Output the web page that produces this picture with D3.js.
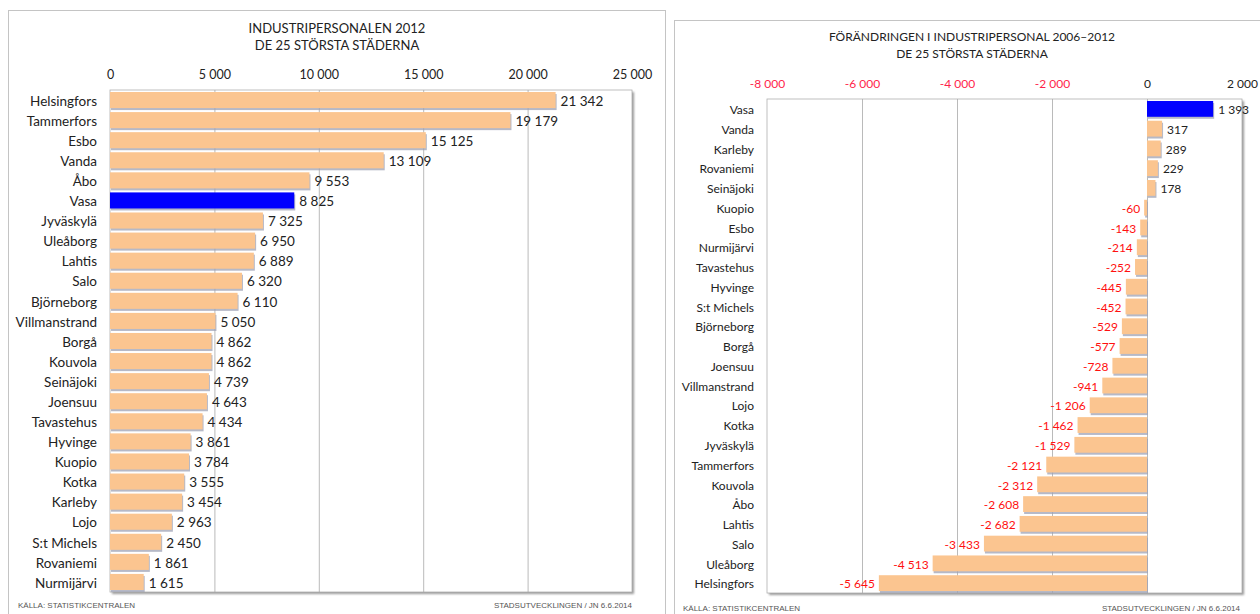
<!DOCTYPE html>
<html>
<head>
<meta charset="utf-8">
<script src="https://cdn.jsdelivr.net/npm/d3@7"></script>
<style>
  body { margin: 0; background: #fff; }
  svg { display: block; }
  text { font-family: Lato, "Open Sans", sans-serif; }
  .foot { font-family: "Liberation Sans", Arial, sans-serif; font-size: 8px; fill: #555; }
</style>
</head>
<body>
<div id="plt"></div>
<script>
// Left chart: staff 2012
const cities2012 = ["Helsingfors","Tammerfors","Esbo","Vanda","Åbo","Vasa","Jyväskylä","Uleåborg","Lahtis","Salo",
  "Björneborg","Villmanstrand","Borgå","Kouvola","Seinäjoki","Joensuu","Tavastehus","Hyvinge","Kuopio","Kotka",
  "Karleby","Lojo","S:t Michels","Rovaniemi","Nurmijärvi"];
const staff2012 = [21342,19179,15125,13109,9553,8825,7325,6950,6889,6320,
  6110,5050,4862,4862,4739,4643,4434,3861,3784,3555,
  3454,2963,2450,1861,1615];
const ticks2012 = [0,5000,10000,15000,20000,25000];

// Right chart: change 2006-2012
const citiesChange = ["Vasa","Vanda","Karleby","Rovaniemi","Seinäjoki","Kuopio","Esbo","Nurmijärvi","Tavastehus","Hyvinge",
  "S:t Michels","Björneborg","Borgå","Joensuu","Villmanstrand","Lojo","Kotka","Jyväskylä","Tammerfors","Kouvola",
  "Åbo","Lahtis","Salo","Uleåborg","Helsingfors"];
const change = [1393,317,289,229,178,-60,-143,-214,-252,-445,
  -452,-529,-577,-728,-941,-1206,-1462,-1529,-2121,-2312,
  -2608,-2682,-3433,-4513,-5645];
const ticksChange = [-8000,-6000,-4000,-2000,0,2000];

const highlight = "Vasa";
const barColor = "#fbc590";
const hiColor = "#0000ff";

const fmt = d3.formatLocale({decimal: ",", thousands: "\u00a0", grouping: [3], currency: ["", ""], minus: "-"}).format(",d");

const svg = d3.select("#plt").append("svg")
    .attr("width", 1260)
    .attr("height", 614);

const defs = svg.append("defs");
const blur = defs.append("filter").attr("id", "sh").attr("x", "-5%").attr("y", "-5%").attr("width", "110%").attr("height", "110%");
blur.append("feGaussianBlur").attr("stdDeviation", 1.2);

// outer panel borders
svg.append("rect").attr("x", 8.5).attr("y", 10.5).attr("width", 657).attr("height", 620)
    .attr("fill", "#fff").attr("stroke", "#c4c4c4");
svg.append("rect").attr("x", 674.5).attr("y", 20.5).attr("width", 600).attr("height", 620)
    .attr("fill", "#fff").attr("stroke", "#c4c4c4");

function drawChart(opt) {
  const g = svg.append("g");
  const x = d3.scaleLinear().domain(opt.domain).range([opt.left, opt.right]);
  const y = d3.scaleBand().domain(opt.cats).range([opt.top, opt.bottom]).paddingInner(0.2).paddingOuter(0.1);

  // plot frame with shadow
  g.append("rect").attr("x", opt.left + 2).attr("y", opt.top + 2)
      .attr("width", opt.right - opt.left).attr("height", opt.bottom - opt.top)
      .attr("fill", "#9a9a9a").attr("filter", "url(#sh)");
  g.append("rect").attr("x", opt.left).attr("y", opt.top)
      .attr("width", opt.right - opt.left).attr("height", opt.bottom - opt.top)
      .attr("fill", "#fff").attr("stroke", "#b0b0b0").attr("stroke-width", 0.8);

  // gridlines
  g.append("g").selectAll("line")
    .data(opt.ticks.slice(1, -1))
    .enter().append("line")
      .attr("x1", d => x(d) + 0.5).attr("x2", d => x(d) + 0.5)
      .attr("y1", opt.top).attr("y2", opt.bottom)
      .attr("stroke", "#a8a8a8").attr("stroke-width", 0.8);

  // axis labels on top
  const ax = g.append("g")
      .attr("transform", `translate(0,${opt.top})`)
      .call(d3.axisTop(x).tickValues(opt.ticks).tickSize(0).tickPadding(opt.tickPad).tickFormat(fmt));
  ax.select(".domain").remove();
  ax.selectAll("text")
      .style("font-family", "Lato, 'Open Sans', sans-serif")
      .style("font-size", opt.tickSize + "px")
      .style("fill", d => d < 0 ? "#ff1f4b" : "#222");

  const x0 = x(0);
  // bar shadows
  g.append("g").selectAll("rect")
    .data(opt.values)
    .enter().append("rect")
      .attr("x", d => Math.min(x(d), x0) + 1)
      .attr("y", (d, i) => y(opt.cats[i]) + 2)
      .attr("width", d => Math.abs(x(d) - x0))
      .attr("height", y.bandwidth())
      .attr("fill", "#9ea2b4")
      .attr("opacity", 0.75);
  // bars
  g.append("g").selectAll("rect")
    .data(opt.values)
    .enter().append("rect")
      .attr("x", d => Math.min(x(d), x0))
      .attr("y", (d, i) => y(opt.cats[i]))
      .attr("width", d => Math.abs(x(d) - x0))
      .attr("height", y.bandwidth())
      .attr("fill", (d, i) => opt.cats[i] === highlight ? hiColor : barColor);

  // category labels
  g.append("g").selectAll("text")
    .data(opt.cats)
    .enter().append("text")
      .attr("x", opt.labelX)
      .attr("y", d => y(d) + y.bandwidth() / 2 + 1)
      .attr("dy", "0.35em")
      .attr("text-anchor", "end")
      .style("font-size", opt.fontSize + "px")
      .style("fill", "#222")
      .text(d => d);

  // value labels
  g.append("g").selectAll("text")
    .data(opt.values)
    .enter().append("text")
      .attr("x", d => d < 0 ? x(d) - 4 : x(d) + 5)
      .attr("y", (d, i) => y(opt.cats[i]) + y.bandwidth() / 2 + 1)
      .attr("dy", "0.35em")
      .attr("text-anchor", d => d < 0 ? "end" : "start")
      .style("fill", d => d < 0 ? "#ff1010" : "#222")
      .style("font-size", opt.fontSize + "px")
      .text(d => fmt(d));

  // title
  const t = g.append("text").attr("text-anchor", "middle").style("font-size", opt.titleSize + "px").style("fill", "#222");
  t.append("tspan").attr("x", opt.titleX).attr("y", opt.titleY).text(opt.title[0]);
  t.append("tspan").attr("x", opt.titleX).attr("y", opt.titleY + 16.5).text(opt.title[1]);

  // footers
  g.append("text").attr("class", "foot").attr("x", opt.footL).attr("y", opt.footY).text("KÄLLA: STATISTIKCENTRALEN");
  g.append("text").attr("class", "foot").attr("x", opt.footR).attr("y", opt.footY)
      .attr("text-anchor", "end").text("STADSUTVECKLINGEN / JN 6.6.2014");
}

drawChart({
  cats: cities2012, values: staff2012, ticks: ticks2012, domain: [0, 25000],
  left: 110, right: 632, top: 90, bottom: 592, labelX: 97, tickPad: 11,
  fontSize: 13.5, tickSize: 12.5, titleSize: 13,
  title: ["INDUSTRIPERSONALEN 2012", "DE 25 STÖRSTA STÄDERNA"], titleX: 337, titleY: 33,
  footL: 18, footR: 632, footY: 608
});

drawChart({
  cats: citiesChange, values: change, ticks: ticksChange, domain: [-8000, 2000],
  left: 767, right: 1242, top: 99, bottom: 593, labelX: 754, tickPad: 11,
  fontSize: 12, tickSize: 12, titleSize: 12,
  title: ["FÖRÄNDRINGEN I INDUSTRIPERSONAL 2006–2012", "DE 25 STÖRSTA STÄDERNA"], titleX: 972, titleY: 41,
  footL: 683, footR: 1240, footY: 611
});
</script>
</body>
</html>
